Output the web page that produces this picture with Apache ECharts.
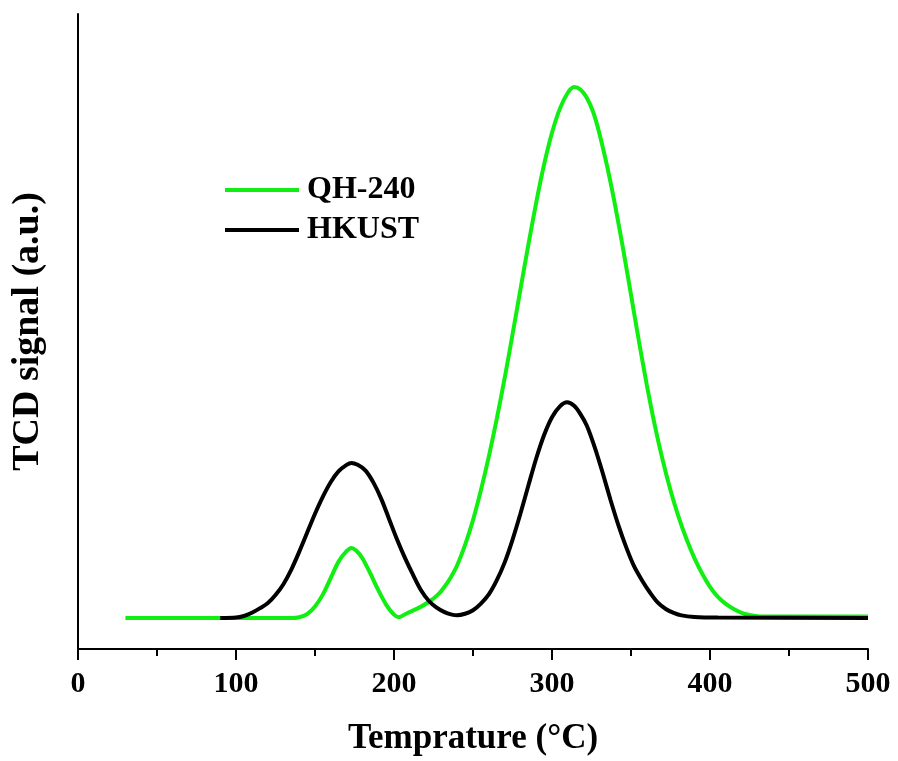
<!DOCTYPE html>
<html>
<head>
<meta charset="utf-8">
<script src="https://cdn.jsdelivr.net/npm/echarts@6/dist/echarts.min.js"></script>
<style>
  html, body { margin: 0; padding: 0; background: #fff; }
  #chart { width: 898px; height: 761px; }
</style>
</head>
<body>
<div id="chart"></div>
<script>
// values (temperature in °C, signal in arbitrary units)
var tempQH = [30, 80, 135, 140, 145, 150, 155, 160, 165, 170, 173, 176, 180, 185, 190, 195, 200, 203,
    208, 215, 222, 228, 232, 236, 240, 245, 250, 255, 260, 265, 270, 275, 280, 285, 290, 295, 300, 305,
    310, 314, 318, 322, 326, 330, 335, 340, 345, 350, 355, 360, 365, 370, 375, 380, 385, 390, 395,
    400, 405, 410, 415, 420, 425, 430, 440, 500]
var signalQH = [4.87, 4.87, 4.87, 5.0, 5.5, 6.7, 8.6, 11.2, 13.8, 15.4, 15.9, 15.5, 14.3, 11.9, 9.3, 7.0, 5.4, 5.0,
    5.6, 6.4, 7.4, 8.6, 9.8, 11.3, 13.2, 16.4, 20.3, 25.0, 30.3, 36.2, 42.6, 49.5, 56.6, 63.6, 70.3, 76.3, 81.3, 85.1,
    87.6, 88.5, 88.1, 86.8, 84.6, 81.2, 75.9, 69.8, 63.0, 55.8, 48.5, 41.6, 35.3, 29.8, 25.0, 20.9, 17.4, 14.4, 11.9,
    9.8, 8.2, 7.1, 6.3, 5.7, 5.35, 5.15, 5.1, 5.1]

var tempHK = [90, 100, 105, 110, 115, 120, 125, 130, 135, 140, 145, 150, 155, 160, 165, 170, 173, 177,
    182, 187, 192, 197, 202, 207, 212, 217, 222, 227, 232, 236, 240, 245, 250, 255, 260, 265, 270,
    275, 280, 285, 290, 295, 300, 305, 309.5, 314, 318, 322, 327, 332, 337, 342, 347, 352, 357, 362,
    367, 372, 377, 382, 390, 405, 500]
var signalHK = [4.87, 4.95, 5.2, 5.7, 6.4, 7.2, 8.5, 10.2, 12.5, 15.3, 18.3, 21.3, 24.0, 26.3, 28.0, 29.0, 29.3, 29.0,
    28.1, 26.2, 23.6, 20.4, 17.2, 14.3, 11.7, 9.3, 7.6, 6.5, 5.8, 5.45, 5.3, 5.55, 6.1, 7.15, 8.6, 10.8, 13.6,
    17.2, 21.3, 25.7, 30.0, 33.7, 36.5, 38.2, 38.84, 38.3, 37.0, 35.2, 31.8, 27.8, 23.5, 19.5, 16.0, 13.0, 10.8, 8.9,
    7.3, 6.3, 5.7, 5.3, 5.05, 4.95, 4.87]

var xTicks = [0, 100, 200, 300, 400, 500]

function pairs(xs, ys) {
    return xs.map(function (x, i) { return [x, ys[i]] })
}

var font = 'Liberation Serif, Times New Roman, serif'
var chart = echarts.init(document.getElementById('chart'))
var option = {
    backgroundColor: '#fff',
    animation: false,
    grid: { left: 78, right: 30, top: 14, bottom: 111 },
    legend: {
        orient: 'vertical',
        left: 220,
        top: 169,
        icon: 'rect',
        itemWidth: 74,
        itemHeight: 4,
        itemGap: 8,
        textStyle: { fontFamily: font, fontWeight: 'bold', fontSize: 32, color: '#000', lineHeight: 32, padding: [0, 0, 0, 3] },
        data: ['QH-240', 'HKUST']
    },
    xAxis: {
        type: 'value',
        min: xTicks[0],
        max: xTicks[xTicks.length - 1],
        interval: 100,
        name: 'Temprature (°C)',
        nameLocation: 'middle',
        nameGap: 72,
        nameTextStyle: { fontFamily: font, fontWeight: 'bold', fontSize: 35, color: '#000' },
        axisLine: { lineStyle: { color: '#000', width: 2 } },
        axisTick: { length: 11, lineStyle: { color: '#000', width: 2 } },
        minorTick: { show: true, splitNumber: 2, length: 7, lineStyle: { color: '#000', width: 2 } },
        splitLine: { show: false },
        axisLabel: { margin: 20, fontFamily: font, fontWeight: 'bold', fontSize: 30, color: '#000' }
    },
    yAxis: {
        type: 'value',
        min: 0,
        max: 100,
        name: 'TCD signal (a.u.)',
        nameLocation: 'middle',
        nameGap: 31,
        nameTextStyle: { fontFamily: font, fontWeight: 'bold', fontSize: 38, color: '#000' },
        axisLine: { show: true, lineStyle: { color: '#000', width: 2 } },
        axisTick: { show: false },
        axisLabel: { show: false },
        splitLine: { show: false }
    },
    series: [
        {
            name: 'QH-240',
            type: 'line',
            smooth: 0.3,
            symbol: 'none',
            lineStyle: { color: '#11ee11', width: 4 },
            itemStyle: { color: '#11ee11' },
            data: pairs(tempQH, signalQH)
        },
        {
            name: 'HKUST',
            type: 'line',
            smooth: 0.3,
            symbol: 'none',
            lineStyle: { color: '#000', width: 4 },
            itemStyle: { color: '#000' },
            data: pairs(tempHK, signalHK)
        }
    ]
}
chart.setOption(option, true)
</script>
</body>
</html>
